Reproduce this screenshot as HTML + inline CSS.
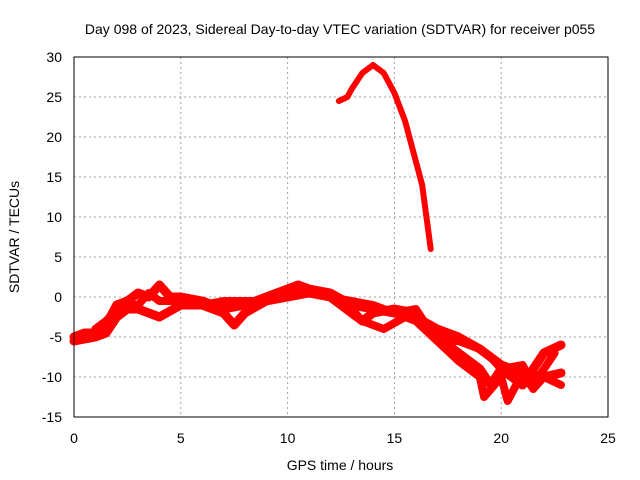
<!DOCTYPE html>
<html><head><meta charset="utf-8"><style>
body{margin:0;background:#fff;}
svg{display:block;font-family:"Liberation Sans",sans-serif;}
</style></head><body>
<svg id="c" width="640" height="480">
<rect width="640" height="480" fill="#fff"/>
<text x="340" y="34" font-size="14" text-anchor="middle">Day 098 of 2023, Sidereal Day-to-day VTEC variation (SDTVAR) for receiver p055</text>
<text x="340" y="470" font-size="14" text-anchor="middle">GPS time / hours</text>
<text transform="translate(19,237) rotate(-90)" font-size="14" text-anchor="middle">SDTVAR / TECUs</text>
<g id="grid"></g><g id="marks"></g>
<rect x="74" y="57" width="534" height="360" fill="none" stroke="#000"/>
</svg>
<script>
const xTicks=[0,5,10,15,20,25];
const yTicks=[-15,-10,-5,0,5,10,15,20,25,30];
const trackA_t=[0,0.5,1,1.5,2,2.5,3,3.5,4,4.5,5,6,7,8,9,10,10.5,11,12,13,14,15,16,17,18,19,20,21,22,22.8];
const trackA_v=[-5,-4.5,-4.5,-3.5,-1,-0.5,0.5,0,1.5,0,0,-0.5,-1.5,-1,0,1,1.5,1,0.5,-1,-1.5,-2,-2.5,-4,-5,-6.5,-8.5,-9.5,-10,-9.5];
const trackB_t=[0,1,1.5,2,2.5,3,4,5,6,7,7.5,8,9,10,11,12,13,13.5,14,15,16,17,18,19,19.5,20,21,22,22.8];
const trackB_v=[-5.5,-5,-4.5,-2.5,-1.5,-1.5,-2.5,-1,-1,-2,-3.5,-2,-0.5,0,0.5,0,-2,-3,-2,-1.5,-2,-5,-7,-9,-11,-9,-11,-7,-6];
const trackC_t=[13,13.5,14,14.5,15.5,16,17,18,18.5,19,19.2,20,20.3,21,21.5,22,22.8];
const trackC_v=[-1.5,-3,-3.5,-4,-2.5,-3,-5.5,-8,-9,-10,-12.5,-10,-13,-9.5,-11.5,-10,-11];
const trackD_t=[1,1.5,2,2.5,3,3.5,4,5,6,7,8,9,10,11,12,13,14,15,16,16.5,17,17.5,18,19,19.5,20,21,21.5,22.5];
const trackD_v=[-4,-3,-1.5,-1,-1,0.5,-0.5,-0.5,-1,-0.5,-0.5,-0.5,0.5,0.5,0,-0.5,-1,-2,-1.5,-3.5,-4.5,-5.5,-5.5,-6.5,-7.5,-9,-8.5,-11,-7];
const arc_t=[12.4,12.8,13,13.5,14,14.5,15,15.5,16,16.3,16.5,16.7];
const arc_v=[24.5,25,26,28,29,28,25.5,22,17,14,10,6];
const X=t=>74+t*534/25, Y=v=>297-v*8;
const ns="http://www.w3.org/2000/svg";
const g=document.getElementById('grid'), m=document.getElementById('marks');
function mk(tag,at,p){const e=document.createElementNS(ns,tag);for(const k in at)e.setAttribute(k,at[k]);p.appendChild(e);return e;}
xTicks.forEach(t=>{
 if(t>0&&t<25){const l=mk('line',{x1:X(t),x2:X(t),y1:57,y2:417,stroke:'#a0a0a0','stroke-dasharray':'2,3'},g);
 
 }
 const tx=mk('text',{x:X(t),y:443,'font-size':14,'text-anchor':'middle'},g);tx.textContent=t;
 
 
});
yTicks.forEach(v=>{
 if(v>-15&&v<30){const l=mk('line',{x1:74,x2:608,y1:Y(v),y2:Y(v),stroke:'#a0a0a0','stroke-dasharray':'2,3'},g);
 
 }
 const tx=mk('text',{x:62,y:Y(v)+5,'font-size':14,'text-anchor':'end'},g);tx.textContent=v;
 
 
});
function track(ts,vs,w,name){
 const pts=ts.map((t,i)=>X(t)+','+Y(vs[i])).join(' ');
 const p=mk('polyline',{points:pts,fill:'none',stroke:'#f00','stroke-width':w,'stroke-linejoin':'round','stroke-linecap':'round'},m);
 
 
}
track(trackA_t,trackA_v,9,'series-track-a');
track(trackB_t,trackB_v,9,'series-track-b');
track(trackC_t,trackC_v,8,'series-track-c');
track(trackD_t,trackD_v,8,'series-track-d');
track(arc_t,arc_v,6,'series-arc');
</script>
</body></html>
